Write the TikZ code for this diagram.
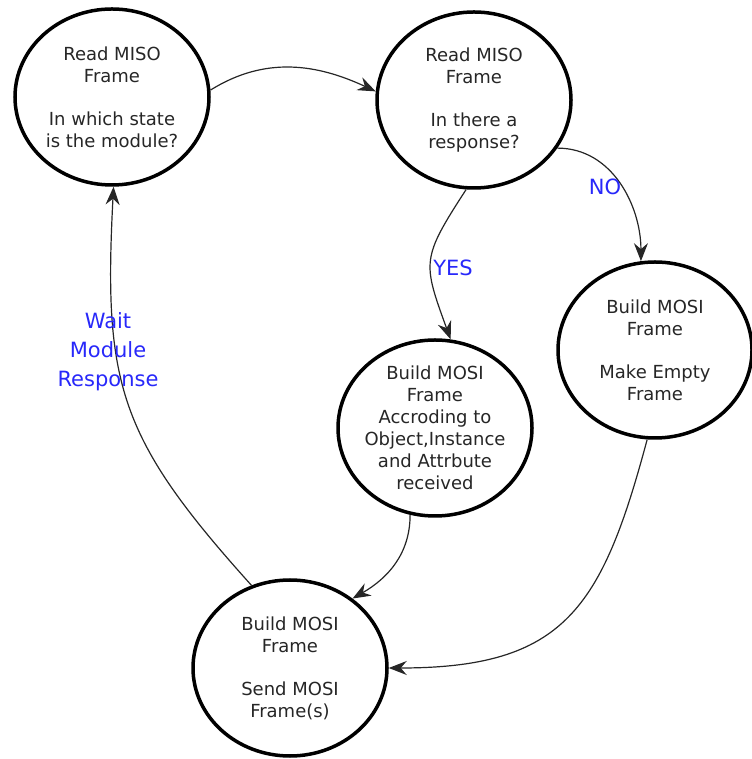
\documentclass[tikz,border=0pt]{standalone}
\usepackage{fontspec}
\setmainfont{DejaVu Sans}
\usetikzlibrary{shapes.geometric, arrows.meta}

\definecolor{lblblue}{RGB}{40,40,250}

\begin{document}
\begin{tikzpicture}[x=1pt, y=1pt,
  stage/.style={ellipse, draw, line width=3.5pt, minimum width=194pt,
    minimum height=176pt, inner sep=-6pt, align=center, text=black!85,
    font=\fontsize{18pt}{22pt}\selectfont},
  lbl/.style={text=lblblue, align=center, font=\fontsize{21pt}{29pt}\selectfont},
  flow/.style={-{Stealth[length=18pt,width=14pt,inset=6pt]}, line width=1.2pt, black!85}]
  \useasboundingbox (0,0) rectangle (751,759);

  % States
  \node[stage] (miso1) at (112,662) {Read MISO\\Frame\\[21pt]In which state\\is the module?};
  \node[stage] (miso2) at (474,659) {Read MISO\\Frame\\[21pt]In there a\\response?};
  \node[stage] (empty) at (655,409) {Build MOSI\\Frame\\[21pt]Make Empty\\Frame};
  \node[stage] (build) at (435,331) {Build MOSI\\Frame\\Accroding to\\Object,Instance\\and Attrbute\\received};
  \node[stage] (send)  at (290,91)  {Build MOSI\\Frame\\[21pt]Send MOSI\\Frame(s)};

  % Transitions
  \draw[flow] (miso1.4) to[out=32, in=155] (miso2.175);
  \draw[flow] (miso2.-30) to[out=0, in=90] (empty.99);
  \draw[flow] (miso2.-95) to[out=237, in=110, looseness=1.4] (build.80);
  \draw[flow] (build.-106) to[out=-90, in=30] (send.48);
  \draw[flow] (empty.-95) to[out=-105, in=0, looseness=1.3] (send.0);
  \draw[flow] (send.115) to[out=132, in=-93, looseness=1.2] (miso1.-89);

  % Labels
  \node[lbl] (no)   at (605,572) {NO};
  \node[lbl] (yes)  at (453,491) {YES};
  \node[lbl] (wait) at (108,407) {Wait\\Module\\Response};
\end{tikzpicture}
\end{document}
